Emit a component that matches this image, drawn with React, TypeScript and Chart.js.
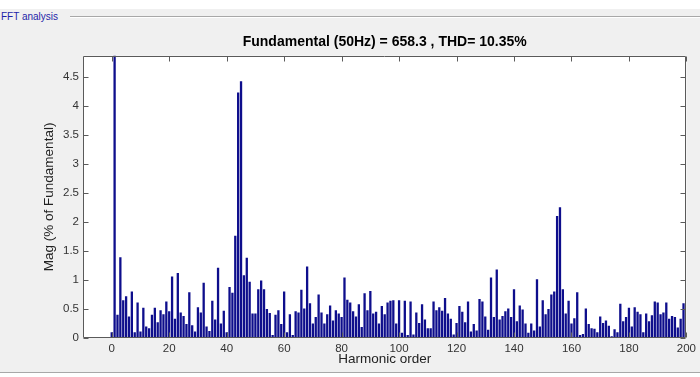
import React, { useEffect, useRef } from "react";
import { Chart, registerables } from "chart.js";

Chart.register(...registerables);

const FONT = '"Liberation Sans", Arial, Helvetica, sans-serif';

// Harmonic magnitudes (% of fundamental), harmonic order = index
const magnitudes0to49 = [
  0.1, 100, 0.4, 1.39, 0.65, 0.72, 0.37, 0.8, 0.1, 0.61,
  0.11, 0.52, 0.2, 0.17, 0.4, 0.52, 0.27, 0.48, 0.41, 0.63,
  0.46, 1.06, 0.33, 1.12, 0.44, 0.38, 0.24, 0.79, 0.22, 0.11,
  0.53, 0.44, 0.95, 0.2, 0.12, 0.64, 0.32, 1.21, 0.25, 0.47,
  0.1, 0.88, 0.78, 1.76, 4.23, 4.42, 1.08, 1.38, 0.97, 0.42,
];
const magnitudes50to99 = [
  0.42, 0.84, 0.99, 0.84, 0.5, 0.43, 0.05, 0.4, 0.48, 0.24,
  0.8, 0.1, 0.41, 0.05, 0.46, 0.44, 0.83, 0.51, 1.23, 0.6,
  0.25, 0.36, 0.75, 0.44, 0.25, 0.41, 0.56, 0.3, 0.48, 0.42,
  0.36, 1.04, 0.66, 0.61, 0.46, 0.37, 0.58, 0.19, 0.77, 0.48,
  0.81, 0.42, 0.45, 0.25, 0.55, 0.41, 0.61, 0.64, 0.65, 0.25,
];
const magnitudes100to149 = [
  0.65, 0.09, 0.64, 0.05, 0.63, 0.06, 0.44, 0.26, 0.58, 0.32,
  0.17, 0.17, 0.63, 0.48, 0.53, 0.47, 0.69, 0.42, 0.33, 0.06,
  0.26, 0.55, 0.45, 0.27, 0.63, 0.11, 0.24, 0.13, 0.67, 0.63,
  0.37, 0.14, 1.04, 0.36, 1.18, 0.32, 0.38, 0.46, 0.51, 0.36,
  0.84, 0.29, 0.56, 0.49, 0.25, 0.09, 0.25, 0.13, 1.01, 0.2,
];
const magnitudes150to199 = [
  0.65, 0.41, 0.5, 0.75, 0.8, 2.1, 2.25, 0.84, 0.42, 0.64,
  0.25, 0.34, 0.79, 0.05, 0.07, 0.51, 0.24, 0.17, 0.16, 0.1,
  0.37, 0.26, 0.3, 0.21, 0.03, 0.15, 0.1, 0.59, 0.29, 0.36,
  0.52, 0.2, 0.53, 0.45, 0.41, 0.1, 0.42, 0.29, 0.39, 0.63,
  0.61, 0.41, 0.44, 0.61, 0.33, 0.38, 0.36, 0.18, 0.33, 0.6,
];
const magnitudes = [
  ...magnitudes0to49,
  ...magnitudes50to99,
  ...magnitudes100to149,
  ...magnitudes150to199,
];

const xTickValues = [0, 20, 40, 60, 80, 100, 120, 140, 160, 180, 200];
const yTickValues = [0, 0.5, 1, 1.5, 2, 2.5, 3, 3.5, 4, 4.5];
const X_MIN = -10;
const X_MAX = 200;
const Y_MAX = 4.86;

const chartTitle = "Fundamental (50Hz) = 658.3 , THD= 10.35%";
const xTitle = "Harmonic order";
const yTitle = "Mag (% of Fundamental)";
const panelTitle = "FFT analysis";

const framePlugin = {
  id: "frame",
  beforeDraw(chart: any) {
    const { ctx, chartArea: a } = chart;
    ctx.save();
    ctx.fillStyle = "#ffffff";
    ctx.fillRect(a.left, a.top, a.right - a.left, a.bottom - a.top);
    ctx.restore();
  },
  afterDatasetsDraw(chart: any) {
    const { ctx, chartArea: a, scales } = chart;
    const L = Math.round(a.left) + 0.5;
    const R = Math.round(a.right) - 0.5;
    const T = Math.round(a.top) + 0.5;
    const B = Math.round(a.bottom) - 0.5;
    ctx.save();
    ctx.strokeStyle = "#5a5a5a";
    ctx.lineWidth = 1;
    ctx.beginPath();
    ctx.rect(L, T, R - L, B - T);
    const tl = 5;
    xTickValues.forEach((v) => {
      const px = Math.round(scales.x.getPixelForValue(v)) + 0.5;
      ctx.moveTo(px, B);
      ctx.lineTo(px, B - tl);
      ctx.moveTo(px, T);
      ctx.lineTo(px, T + tl);
    });
    yTickValues.forEach((v) => {
      const py = Math.round(scales.y.getPixelForValue(v)) + 0.5;
      ctx.moveTo(L, py);
      ctx.lineTo(L + tl, py);
      ctx.moveTo(R, py);
      ctx.lineTo(R - tl, py);
    });
    ctx.stroke();
    ctx.restore();
  },
};

export default function App() {
  const canvasRef = useRef<HTMLCanvasElement | null>(null);

  useEffect(() => {
    if (!canvasRef.current) return;
    const chart = new Chart(canvasRef.current, {
      type: "bar",
      data: {
        datasets: [
          {
            data: magnitudes.map((m, i) => ({ x: i, y: m })),
            backgroundColor: "#0e0e8c",
            borderWidth: 0,
            barPercentage: 0.8,
            categoryPercentage: 1,
          },
        ],
      },
      options: {
        animation: false,
        responsive: false,
        devicePixelRatio: 1,
        layout: { padding: { left: 0, right: 12, top: 0, bottom: 0 } },
        plugins: {
          legend: { display: false },
          tooltip: { enabled: false },
          title: {
            display: true,
            text: chartTitle,
            fullSize: false,
            color: "#000000",
            font: { family: FONT, size: 14, weight: "bold" },
            padding: { top: 34, bottom: 5 },
          },
        },
        scales: {
          x: {
            type: "linear",
            offset: false,
            min: X_MIN,
            max: X_MAX,
            afterBuildTicks: (s: any) => {
              s.ticks = xTickValues.map((v) => ({ value: v }));
            },
            afterFit: (s: any) => {
              s.height = 39;
            },
            grid: { display: false, drawTicks: false, offset: false },
            border: { display: false },
            ticks: {
              autoSkip: false,
              maxRotation: 0,
              padding: 4,
              color: "#333333",
              font: { family: FONT, size: 11.5 },
              callback: (v: any) => String(v),
            },
            title: {
              display: true,
              text: xTitle,
              color: "#222222",
              font: { family: FONT, size: 13.5 },
              padding: { top: 0, bottom: 10 },
            },
          },
          y: {
            type: "linear",
            min: 0,
            max: Y_MAX,
            afterBuildTicks: (s: any) => {
              s.ticks = yTickValues.map((v) => ({ value: v }));
            },
            afterFit: (s: any) => {
              s.width = 83;
            },
            grid: { display: false, drawTicks: false },
            border: { display: false },
            ticks: {
              autoSkip: false,
              padding: 4,
              color: "#333333",
              font: { family: FONT, size: 11.5 },
              callback: (v: any) => String(v),
            },
            title: {
              display: true,
              text: yTitle,
              color: "#222222",
              font: { family: FONT, size: 13.5 },
              padding: { top: 41, bottom: 0 },
            },
          },
        },
      },
      plugins: [framePlugin],
    } as any);
    return () => chart.destroy();
  }, []);

  return (
    <div
      style={{
        position: "fixed",
        left: 0,
        top: 0,
        width: 700,
        height: 377,
        background: "#ffffff",
        overflow: "hidden",
      }}
    >
      <div
        style={{
          position: "absolute",
          left: 0,
          top: 9,
          width: 700,
          height: 363,
          background: "#f0f0f0",
          borderBottom: "1px solid #a8a8a8",
        }}
      />
      <div
        style={{
          position: "absolute",
          left: 70,
          top: 16,
          right: 0,
          height: 1,
          background: "#a8a8a8",
          borderBottom: "1px solid #ffffff",
        }}
      />
      <div
        style={{
          position: "absolute",
          left: 1,
          top: 11,
          fontFamily: FONT,
          fontSize: 10,
          lineHeight: "12px",
          color: "#1f1fa8",
          whiteSpace: "nowrap",
        }}
      >
        {panelTitle}
      </div>
      <canvas
        ref={canvasRef}
        width={700}
        height={377}
        style={{ position: "absolute", left: 0, top: 0, width: 700, height: 377 }}
      />
    </div>
  );
}
